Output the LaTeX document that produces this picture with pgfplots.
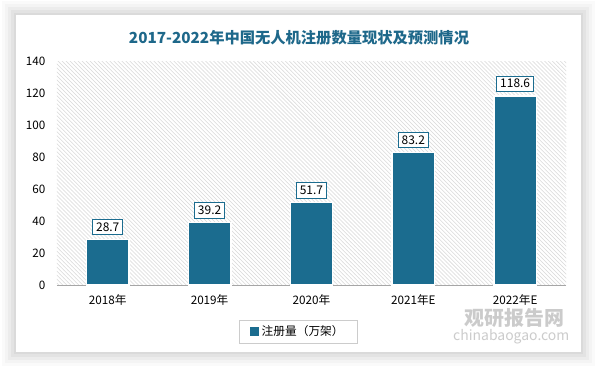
\documentclass[border=0pt]{standalone}
\usepackage{fontspec}
\setmainfont{Noto Sans CJK SC}
\usepackage{pgfplots}
\pgfplotsset{compat=1.18}
\usetikzlibrary{patterns}
\definecolor{barblue}{RGB}{27,108,143}
\definecolor{titleblue}{RGB}{30,104,138}
\begin{document}
\begin{tikzpicture}[x=0.75pt,y=0.75pt]
\fill[white] (0,0) rectangle (595,364);
\foreach \d/\o in {14/0.02,11/0.025,8/0.03,5/0.035,2/0.04} {
  \fill[black,opacity=\o] (16-\d,11-\d) rectangle (583+\d,349+\d);
}
\fill[white] (16,11) rectangle (583,349);
\node[font=\fontsize{11.5}{13}\selectfont\bfseries, text=titleblue] at (300,326) {2017-2022年中国无人机注册数量现状及预测情况};
\begin{axis}[
  at={(42.75pt,58.5pt)}, anchor=south west,
  scale only axis, width=383.25pt, height=168pt,
  axis background/.style={pattern=north west lines, pattern color=gray!30},
  xmin=-0.5, xmax=4.5, ymin=0, ymax=140,
  ytick={0,20,...,140},
  xtick={0,1,2,3,4},
  xticklabels={2018年,2019年,2020年,2021年E,2022年E},
  axis lines=left,
  x axis line style={-, gray!70, line width=0.8pt},
  y axis line style={draw=none},
  major tick length=0pt,
  tick style={draw=none},
  /pgf/number format/assume math mode=true,
  tick label style={font=\fontsize{8.8}{10}\selectfont},
  yticklabel style={xshift=-5pt},
  xticklabel style={yshift=-4pt},
  ybar, bar width=32pt,
  nodes near coords={\pgfmathprintnumber[fixed,precision=1,fixed zerofill]{\pgfplotspointmeta}},
  nodes near coords style={draw=barblue, fill=white, text=black, inner sep=2.5pt, font=\fontsize{9}{10}\selectfont, anchor=south, yshift=3pt, line width=0.7pt},
  legend style={at={(0.474,-0.21)}, anchor=center, draw=gray!40, font=\fontsize{8.8}{10}\selectfont, inner xsep=8pt, inner ysep=2pt},
  legend image code/.code={\fill[barblue] (0cm,-0.1cm) rectangle (0.2cm,0.1cm);},
]
\addplot[fill=barblue, draw=white, line width=1pt] coordinates {(0,28.7) (1,39.2) (2,51.7) (3,83.2) (4,118.6)};
\addlegendentry{注册量（万架）}
\end{axis}
\node[font=\fontsize{15}{17}\selectfont\bfseries, text=gray!50, opacity=0.8] at (516,45) {观研报告网};
\node[font=\fontsize{10.5}{12}\selectfont, text=gray!50, opacity=0.8] at (513,26) {chinabaogao.com};
\end{tikzpicture}
\end{document}
